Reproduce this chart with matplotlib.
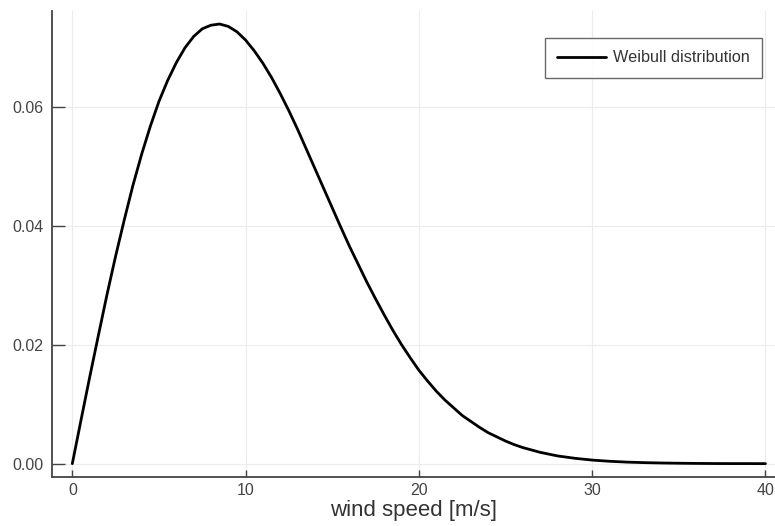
import matplotlib.pyplot as plt

# wind speed [m/s] and probability density
wind_speed = [
    0, 0.5, 1, 1.5, 2, 2.5, 3, 3.5, 4, 4.5, 5, 5.5, 6, 6.5, 7, 7.5,
    8, 8.5, 9, 9.5, 10, 10.5, 11, 11.5, 12, 12.5, 13, 13.5, 14, 14.5,
    15, 15.5, 16, 16.5, 17, 17.5, 18, 18.5, 19, 19.5, 20, 20.5, 21,
    21.5, 22, 22.5, 23, 23.5, 24, 24.5, 25, 25.5, 26, 26.5, 27, 27.5,
    28, 29, 30, 31, 32, 33, 34, 35, 36, 37, 38, 39, 40,
]
density = [
    0.0000, 0.0073, 0.0145, 0.0215, 0.0284, 0.0349, 0.0410, 0.0468,
    0.0520, 0.0567, 0.0609, 0.0644, 0.0674, 0.0699, 0.0718, 0.0731,
    0.0737, 0.0739, 0.0735, 0.0726, 0.0712, 0.0694, 0.0673, 0.0649,
    0.0622, 0.0593, 0.0562, 0.0529, 0.0496, 0.0463, 0.0430, 0.0397,
    0.0365, 0.0335, 0.0305, 0.0277, 0.0250, 0.0224, 0.0200, 0.0178,
    0.0157, 0.0139, 0.0122, 0.0107, 0.0094, 0.0081, 0.0071, 0.0061,
    0.0052, 0.0045, 0.0038, 0.0032, 0.0027, 0.0023, 0.0019, 0.0016,
    0.0013, 0.0009, 0.0006, 0.0004, 0.00026, 0.00017, 0.00011,
    0.00007, 0.00004, 0.00002, 0.00001, 0.00001, 0.0,
]

x_ticks = [0, 10, 20, 30, 40]
y_ticks = [0.00, 0.02, 0.04, 0.06]
y_tick_labels = ['0.00', '0.02', '0.04', '0.06']

plt.rcParams['font.family'] = ['Liberation Sans', 'DejaVu Sans']

fig = plt.figure(figsize=(7.75, 5.26), dpi=100)
ax = fig.add_axes([0.0667, 0.0932, 0.9333, 0.886])

ax.plot(wind_speed, density, color='black', linewidth=2.0,
        label='Weibull distribution', solid_capstyle='round',
        solid_joinstyle='round')

ax.set_xlim(-1.19, 40.55)
ax.set_ylim(-0.00224, 0.0761)

ax.set_xticks(x_ticks)
ax.set_yticks(y_ticks)
ax.set_yticklabels(y_tick_labels)

ax.grid(True, color='#ececec', linewidth=0.8)
ax.set_axisbelow(True)

for side in ['top', 'right']:
    ax.spines[side].set_visible(False)
for side in ['left', 'bottom']:
    ax.spines[side].set_color('#444444')
    ax.spines[side].set_linewidth(1.3)

ax.tick_params(axis='x', direction='in', length=5, width=1.0,
               color='#444444', labelcolor='#444444', labelsize=11.5, pad=4)
ax.tick_params(axis='y', direction='in', length=9, width=1.0,
               color='#444444', labelcolor='#444444', labelsize=11.5, pad=6)

ax.set_xlabel('wind speed [m/s]', fontsize=16, color='#333333', labelpad=2)

leg = ax.legend(loc='upper right', bbox_to_anchor=(0.982, 0.9414),
                fontsize=11.7, frameon=True, fancybox=False,
                handlelength=3.0, borderpad=0.75, handletextpad=0.45,
                borderaxespad=0)
leg.get_frame().set_edgecolor('#444444')
leg.get_frame().set_linewidth(1.0)
for t in leg.get_texts():
    t.set_color('#333333')

fig.savefig('out.png', dpi=100)
